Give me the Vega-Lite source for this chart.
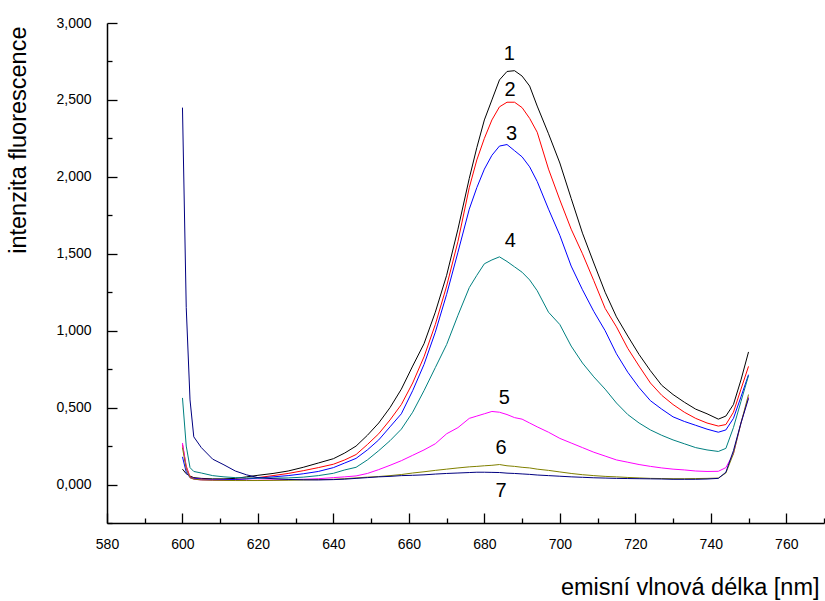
{
  "$schema": "https://vega.github.io/schema/vega-lite/v6.json",
  "width": 717,
  "height": 500,
  "autosize": {"type": "none"},
  "padding": {"left": 107, "top": 23, "right": 1, "bottom": 78},
  "background": "white",
  "config": {
    "view": {"stroke": null},
    "font": "Liberation Sans",
    "axis": {
      "grid": false,
      "domainColor": "#000000",
      "domainWidth": 1.5,
      "tickColor": "#000000",
      "tickWidth": 1.3,
      "labelColor": "#000000",
      "labelFont": "Liberation Sans",
      "labelFontSize": 14,
      "titleColor": "#000000",
      "titleFont": "Liberation Sans",
      "titleFontSize": 23.5,
      "titleFontWeight": "normal"
    }
  },
  "datasets": {
    "spectra": [
      {"w":600,"s":"1","v":0.10},{"w":601,"s":"1","v":0.07},{"w":602,"s":"1","v":0.055},{"w":603,"s":"1","v":0.045},{"w":605,"s":"1","v":0.04},{"w":608,"s":"1","v":0.037},{"w":611,"s":"1","v":0.037},{"w":614,"s":"1","v":0.04},{"w":617,"s":"1","v":0.05},{"w":620,"s":"1","v":0.06},{"w":624,"s":"1","v":0.072},{"w":628,"s":"1","v":0.088},{"w":632,"s":"1","v":0.112},{"w":636,"s":"1","v":0.14},{"w":640,"s":"1","v":0.168},{"w":643,"s":"1","v":0.205},{"w":646,"s":"1","v":0.25},{"w":649,"s":"1","v":0.32},{"w":652,"s":"1","v":0.40},{"w":655,"s":"1","v":0.50},{"w":658,"s":"1","v":0.62},{"w":661,"s":"1","v":0.77},{"w":664,"s":"1","v":0.915},{"w":667,"s":"1","v":1.12},{"w":670,"s":"1","v":1.36},{"w":673,"s":"1","v":1.66},{"w":676,"s":"1","v":1.99},{"w":678,"s":"1","v":2.19},{"w":680,"s":"1","v":2.37},{"w":682,"s":"1","v":2.50},{"w":684,"s":"1","v":2.63},{"w":686,"s":"1","v":2.685},{"w":688,"s":"1","v":2.69},{"w":690,"s":"1","v":2.655},{"w":692,"s":"1","v":2.59},{"w":694,"s":"1","v":2.46},{"w":697,"s":"1","v":2.28},{"w":700,"s":"1","v":2.09},{"w":703,"s":"1","v":1.86},{"w":706,"s":"1","v":1.634},{"w":709,"s":"1","v":1.44},{"w":712,"s":"1","v":1.25},{"w":715,"s":"1","v":1.09},{"w":718,"s":"1","v":0.965},{"w":721,"s":"1","v":0.845},{"w":724,"s":"1","v":0.74},{"w":727,"s":"1","v":0.645},{"w":730,"s":"1","v":0.585},{"w":733,"s":"1","v":0.535},{"w":736,"s":"1","v":0.49},{"w":739,"s":"1","v":0.46},{"w":742,"s":"1","v":0.425},{"w":744,"s":"1","v":0.445},{"w":746,"s":"1","v":0.52},{"w":748,"s":"1","v":0.68},{"w":750,"s":"1","v":0.862},
      {"w":600,"s":"2","v":0.26},{"w":601,"s":"2","v":0.12},{"w":602,"s":"2","v":0.05},{"w":603,"s":"2","v":0.04},{"w":605,"s":"2","v":0.035},{"w":608,"s":"2","v":0.032},{"w":611,"s":"2","v":0.032},{"w":614,"s":"2","v":0.033},{"w":617,"s":"2","v":0.038},{"w":620,"s":"2","v":0.045},{"w":624,"s":"2","v":0.058},{"w":628,"s":"2","v":0.072},{"w":632,"s":"2","v":0.09},{"w":636,"s":"2","v":0.11},{"w":640,"s":"2","v":0.132},{"w":643,"s":"2","v":0.16},{"w":646,"s":"2","v":0.195},{"w":649,"s":"2","v":0.26},{"w":652,"s":"2","v":0.33},{"w":655,"s":"2","v":0.42},{"w":658,"s":"2","v":0.52},{"w":661,"s":"2","v":0.66},{"w":664,"s":"2","v":0.83},{"w":667,"s":"2","v":1.04},{"w":670,"s":"2","v":1.29},{"w":673,"s":"2","v":1.58},{"w":676,"s":"2","v":1.93},{"w":678,"s":"2","v":2.11},{"w":680,"s":"2","v":2.25},{"w":682,"s":"2","v":2.37},{"w":684,"s":"2","v":2.455},{"w":686,"s":"2","v":2.485},{"w":688,"s":"2","v":2.485},{"w":690,"s":"2","v":2.45},{"w":692,"s":"2","v":2.38},{"w":694,"s":"2","v":2.29},{"w":697,"s":"2","v":2.05},{"w":700,"s":"2","v":1.85},{"w":703,"s":"2","v":1.66},{"w":706,"s":"2","v":1.50},{"w":709,"s":"2","v":1.325},{"w":712,"s":"2","v":1.145},{"w":715,"s":"2","v":1.025},{"w":718,"s":"2","v":0.885},{"w":721,"s":"2","v":0.77},{"w":724,"s":"2","v":0.66},{"w":727,"s":"2","v":0.58},{"w":730,"s":"2","v":0.52},{"w":733,"s":"2","v":0.47},{"w":736,"s":"2","v":0.43},{"w":739,"s":"2","v":0.40},{"w":742,"s":"2","v":0.38},{"w":744,"s":"2","v":0.39},{"w":746,"s":"2","v":0.47},{"w":748,"s":"2","v":0.62},{"w":750,"s":"2","v":0.768},
      {"w":600,"s":"3","v":0.18},{"w":601,"s":"3","v":0.08},{"w":602,"s":"3","v":0.045},{"w":603,"s":"3","v":0.04},{"w":605,"s":"3","v":0.035},{"w":608,"s":"3","v":0.032},{"w":611,"s":"3","v":0.032},{"w":614,"s":"3","v":0.033},{"w":617,"s":"3","v":0.036},{"w":620,"s":"3","v":0.042},{"w":624,"s":"3","v":0.05},{"w":628,"s":"3","v":0.058},{"w":632,"s":"3","v":0.07},{"w":636,"s":"3","v":0.085},{"w":640,"s":"3","v":0.11},{"w":643,"s":"3","v":0.14},{"w":646,"s":"3","v":0.17},{"w":649,"s":"3","v":0.225},{"w":652,"s":"3","v":0.29},{"w":655,"s":"3","v":0.375},{"w":658,"s":"3","v":0.46},{"w":661,"s":"3","v":0.61},{"w":664,"s":"3","v":0.78},{"w":667,"s":"3","v":0.99},{"w":670,"s":"3","v":1.236},{"w":673,"s":"3","v":1.51},{"w":676,"s":"3","v":1.79},{"w":678,"s":"3","v":1.93},{"w":680,"s":"3","v":2.05},{"w":682,"s":"3","v":2.14},{"w":684,"s":"3","v":2.20},{"w":686,"s":"3","v":2.21},{"w":688,"s":"3","v":2.17},{"w":690,"s":"3","v":2.13},{"w":692,"s":"3","v":2.065},{"w":694,"s":"3","v":1.97},{"w":697,"s":"3","v":1.79},{"w":700,"s":"3","v":1.62},{"w":703,"s":"3","v":1.42},{"w":706,"s":"3","v":1.266},{"w":709,"s":"3","v":1.125},{"w":712,"s":"3","v":1.0},{"w":715,"s":"3","v":0.85},{"w":718,"s":"3","v":0.73},{"w":721,"s":"3","v":0.63},{"w":724,"s":"3","v":0.545},{"w":727,"s":"3","v":0.49},{"w":730,"s":"3","v":0.44},{"w":733,"s":"3","v":0.41},{"w":736,"s":"3","v":0.385},{"w":739,"s":"3","v":0.36},{"w":742,"s":"3","v":0.34},{"w":744,"s":"3","v":0.355},{"w":746,"s":"3","v":0.43},{"w":748,"s":"3","v":0.57},{"w":750,"s":"3","v":0.714},
      {"w":600,"s":"4","v":0.563},{"w":601,"s":"4","v":0.25},{"w":602,"s":"4","v":0.11},{"w":603,"s":"4","v":0.085},{"w":605,"s":"4","v":0.075},{"w":608,"s":"4","v":0.058},{"w":611,"s":"4","v":0.05},{"w":614,"s":"4","v":0.045},{"w":617,"s":"4","v":0.043},{"w":620,"s":"4","v":0.042},{"w":624,"s":"4","v":0.042},{"w":628,"s":"4","v":0.043},{"w":632,"s":"4","v":0.048},{"w":636,"s":"4","v":0.058},{"w":640,"s":"4","v":0.073},{"w":643,"s":"4","v":0.095},{"w":646,"s":"4","v":0.112},{"w":649,"s":"4","v":0.16},{"w":652,"s":"4","v":0.22},{"w":655,"s":"4","v":0.285},{"w":658,"s":"4","v":0.36},{"w":661,"s":"4","v":0.47},{"w":664,"s":"4","v":0.61},{"w":667,"s":"4","v":0.76},{"w":670,"s":"4","v":0.91},{"w":673,"s":"4","v":1.10},{"w":676,"s":"4","v":1.28},{"w":678,"s":"4","v":1.36},{"w":680,"s":"4","v":1.435},{"w":682,"s":"4","v":1.46},{"w":684,"s":"4","v":1.48},{"w":686,"s":"4","v":1.45},{"w":688,"s":"4","v":1.415},{"w":690,"s":"4","v":1.38},{"w":692,"s":"4","v":1.33},{"w":694,"s":"4","v":1.26},{"w":697,"s":"4","v":1.12},{"w":700,"s":"4","v":1.04},{"w":703,"s":"4","v":0.90},{"w":706,"s":"4","v":0.79},{"w":709,"s":"4","v":0.70},{"w":712,"s":"4","v":0.62},{"w":715,"s":"4","v":0.53},{"w":718,"s":"4","v":0.455},{"w":721,"s":"4","v":0.40},{"w":724,"s":"4","v":0.355},{"w":727,"s":"4","v":0.32},{"w":730,"s":"4","v":0.29},{"w":733,"s":"4","v":0.265},{"w":736,"s":"4","v":0.24},{"w":739,"s":"4","v":0.225},{"w":742,"s":"4","v":0.215},{"w":744,"s":"4","v":0.235},{"w":746,"s":"4","v":0.37},{"w":748,"s":"4","v":0.54},{"w":750,"s":"4","v":0.708},
      {"w":600,"s":"5","v":0.27},{"w":601,"s":"5","v":0.11},{"w":602,"s":"5","v":0.045},{"w":603,"s":"5","v":0.035},{"w":605,"s":"5","v":0.03},{"w":608,"s":"5","v":0.028},{"w":611,"s":"5","v":0.027},{"w":614,"s":"5","v":0.027},{"w":617,"s":"5","v":0.027},{"w":620,"s":"5","v":0.028},{"w":624,"s":"5","v":0.03},{"w":628,"s":"5","v":0.032},{"w":632,"s":"5","v":0.034},{"w":636,"s":"5","v":0.038},{"w":640,"s":"5","v":0.045},{"w":643,"s":"5","v":0.05},{"w":646,"s":"5","v":0.056},{"w":649,"s":"5","v":0.072},{"w":652,"s":"5","v":0.097},{"w":655,"s":"5","v":0.125},{"w":658,"s":"5","v":0.155},{"w":661,"s":"5","v":0.19},{"w":664,"s":"5","v":0.225},{"w":667,"s":"5","v":0.265},{"w":670,"s":"5","v":0.33},{"w":673,"s":"5","v":0.37},{"w":676,"s":"5","v":0.43},{"w":678,"s":"5","v":0.445},{"w":680,"s":"5","v":0.46},{"w":682,"s":"5","v":0.475},{"w":684,"s":"5","v":0.47},{"w":686,"s":"5","v":0.455},{"w":688,"s":"5","v":0.435},{"w":690,"s":"5","v":0.425},{"w":692,"s":"5","v":0.40},{"w":694,"s":"5","v":0.375},{"w":697,"s":"5","v":0.34},{"w":700,"s":"5","v":0.30},{"w":703,"s":"5","v":0.27},{"w":706,"s":"5","v":0.24},{"w":709,"s":"5","v":0.21},{"w":712,"s":"5","v":0.185},{"w":715,"s":"5","v":0.16},{"w":718,"s":"5","v":0.145},{"w":721,"s":"5","v":0.13},{"w":724,"s":"5","v":0.118},{"w":727,"s":"5","v":0.108},{"w":730,"s":"5","v":0.10},{"w":733,"s":"5","v":0.095},{"w":736,"s":"5","v":0.088},{"w":739,"s":"5","v":0.085},{"w":742,"s":"5","v":0.086},{"w":744,"s":"5","v":0.11},{"w":746,"s":"5","v":0.20},{"w":748,"s":"5","v":0.40},{"w":750,"s":"5","v":0.57},
      {"w":600,"s":"6","v":0.24},{"w":601,"s":"6","v":0.10},{"w":602,"s":"6","v":0.045},{"w":603,"s":"6","v":0.035},{"w":605,"s":"6","v":0.03},{"w":608,"s":"6","v":0.028},{"w":611,"s":"6","v":0.027},{"w":614,"s":"6","v":0.026},{"w":617,"s":"6","v":0.026},{"w":620,"s":"6","v":0.026},{"w":624,"s":"6","v":0.027},{"w":628,"s":"6","v":0.028},{"w":632,"s":"6","v":0.03},{"w":636,"s":"6","v":0.032},{"w":640,"s":"6","v":0.034},{"w":643,"s":"6","v":0.038},{"w":646,"s":"6","v":0.043},{"w":649,"s":"6","v":0.048},{"w":652,"s":"6","v":0.052},{"w":655,"s":"6","v":0.058},{"w":658,"s":"6","v":0.065},{"w":661,"s":"6","v":0.075},{"w":664,"s":"6","v":0.083},{"w":667,"s":"6","v":0.092},{"w":670,"s":"6","v":0.10},{"w":673,"s":"6","v":0.108},{"w":676,"s":"6","v":0.115},{"w":678,"s":"6","v":0.118},{"w":680,"s":"6","v":0.122},{"w":682,"s":"6","v":0.125},{"w":684,"s":"6","v":0.13},{"w":686,"s":"6","v":0.122},{"w":688,"s":"6","v":0.118},{"w":690,"s":"6","v":0.112},{"w":692,"s":"6","v":0.108},{"w":694,"s":"6","v":0.10},{"w":697,"s":"6","v":0.092},{"w":700,"s":"6","v":0.082},{"w":703,"s":"6","v":0.072},{"w":706,"s":"6","v":0.064},{"w":709,"s":"6","v":0.058},{"w":712,"s":"6","v":0.053},{"w":715,"s":"6","v":0.05},{"w":718,"s":"6","v":0.046},{"w":721,"s":"6","v":0.043},{"w":724,"s":"6","v":0.04},{"w":727,"s":"6","v":0.039},{"w":730,"s":"6","v":0.038},{"w":733,"s":"6","v":0.038},{"w":736,"s":"6","v":0.039},{"w":739,"s":"6","v":0.04},{"w":742,"s":"6","v":0.042},{"w":744,"s":"6","v":0.075},{"w":746,"s":"6","v":0.20},{"w":748,"s":"6","v":0.40},{"w":750,"s":"6","v":0.585},
      {"w":600,"s":"7","v":2.45},{"w":601,"s":"7","v":1.15},{"w":602,"s":"7","v":0.55},{"w":603,"s":"7","v":0.31},{"w":605,"s":"7","v":0.24},{"w":608,"s":"7","v":0.165},{"w":611,"s":"7","v":0.128},{"w":614,"s":"7","v":0.088},{"w":617,"s":"7","v":0.063},{"w":620,"s":"7","v":0.045},{"w":624,"s":"7","v":0.038},{"w":628,"s":"7","v":0.033},{"w":632,"s":"7","v":0.031},{"w":636,"s":"7","v":0.03},{"w":640,"s":"7","v":0.032},{"w":643,"s":"7","v":0.035},{"w":646,"s":"7","v":0.04},{"w":649,"s":"7","v":0.045},{"w":652,"s":"7","v":0.05},{"w":655,"s":"7","v":0.053},{"w":658,"s":"7","v":0.058},{"w":661,"s":"7","v":0.06},{"w":664,"s":"7","v":0.063},{"w":667,"s":"7","v":0.068},{"w":670,"s":"7","v":0.072},{"w":673,"s":"7","v":0.075},{"w":676,"s":"7","v":0.078},{"w":678,"s":"7","v":0.08},{"w":680,"s":"7","v":0.08},{"w":682,"s":"7","v":0.079},{"w":684,"s":"7","v":0.078},{"w":686,"s":"7","v":0.074},{"w":688,"s":"7","v":0.072},{"w":690,"s":"7","v":0.069},{"w":692,"s":"7","v":0.066},{"w":694,"s":"7","v":0.062},{"w":697,"s":"7","v":0.058},{"w":700,"s":"7","v":0.054},{"w":703,"s":"7","v":0.05},{"w":706,"s":"7","v":0.047},{"w":709,"s":"7","v":0.044},{"w":712,"s":"7","v":0.042},{"w":715,"s":"7","v":0.04},{"w":718,"s":"7","v":0.039},{"w":721,"s":"7","v":0.038},{"w":724,"s":"7","v":0.037},{"w":727,"s":"7","v":0.036},{"w":730,"s":"7","v":0.034},{"w":733,"s":"7","v":0.034},{"w":736,"s":"7","v":0.034},{"w":739,"s":"7","v":0.036},{"w":742,"s":"7","v":0.04},{"w":744,"s":"7","v":0.08},{"w":746,"s":"7","v":0.22},{"w":748,"s":"7","v":0.40},{"w":750,"s":"7","v":0.56}
    ],
    "labels": [
      {"t":"1","w":686.6,"v":2.80},
      {"t":"2","w":686.8,"v":2.565},
      {"t":"3","w":687.2,"v":2.277},
      {"t":"4","w":686.9,"v":1.58},
      {"t":"5","w":685.3,"v":0.563},
      {"t":"6","w":684.4,"v":0.238},
      {"t":"7","w":684.4,"v":-0.039}
    ]
  },
  "resolve": {"axis": {"x": "independent", "y": "independent"}},
  "layer": [
    {
      "data": {"name": "spectra"},
      "mark": {"type": "line", "strokeWidth": 1, "clip": true},
      "encoding": {
        "x": {
          "field": "w", "type": "quantitative",
          "scale": {"domain": [580, 770], "nice": false, "zero": false},
          "axis": {
            "orient": "bottom",
            "values": [580,600,620,640,660,680,700,720,740,760],
            "format": "d",
            "tickSize": -10,
            "labelPadding": 24,
            "labelFlush": false,
            "labelOverlap": false,
            "title": "emisní vlnová délka [nm]",
            "titleAnchor": "end",
            "titleAlign": "right",
            "titleBaseline": "alphabetic",
            "titleX": 712,
            "titleY": 71
          }
        },
        "y": {
          "field": "v", "type": "quantitative",
          "scale": {"domain": [-0.25, 3.0], "nice": false, "zero": false},
          "axis": {
            "orient": "left",
            "values": [0,0.5,1,1.5,2,2.5,3],
            "format": ".3f",
            "labelExpr": "replace(datum.label, '.', ',')",
            "tickSize": -10,
            "labelPadding": 26,
            "labelFlush": false,
            "labelOverlap": false,
            "title": "intenzita fluorescence",
            "titleAngle": 270,
            "titleAlign": "right",
            "titleBaseline": "middle",
            "titleX": -89,
            "titleY": 3
          }
        },
        "color": {
          "field": "s", "type": "nominal",
          "scale": {"domain": ["1","2","3","4","5","6","7"], "range": ["#000000","#ff0000","#0000ff","#008080","#ff00ff","#808000","#000080"]},
          "legend": null
        },
        "order": {"field": "w", "type": "quantitative"}
      }
    },
    {
      "data": {"name": "labels"},
      "mark": {"type": "text", "fontSize": 20, "font": "Liberation Sans", "color": "#000000", "align": "center", "baseline": "middle"},
      "encoding": {
        "x": {
          "field": "w", "type": "quantitative",
          "axis": {
            "orient": "bottom",
            "values": [590,610,630,650,670,690,710,730,750,770],
            "tickSize": -5,
            "labels": false,
            "domain": false,
            "title": null
          }
        },
        "y": {
          "field": "v", "type": "quantitative",
          "axis": {
            "orient": "left",
            "values": [-0.25,0.25,0.75,1.25,1.75,2.25,2.75],
            "tickSize": -5,
            "labels": false,
            "domain": false,
            "title": null
          }
        },
        "text": {"field": "t"}
      }
    }
  ]
}
